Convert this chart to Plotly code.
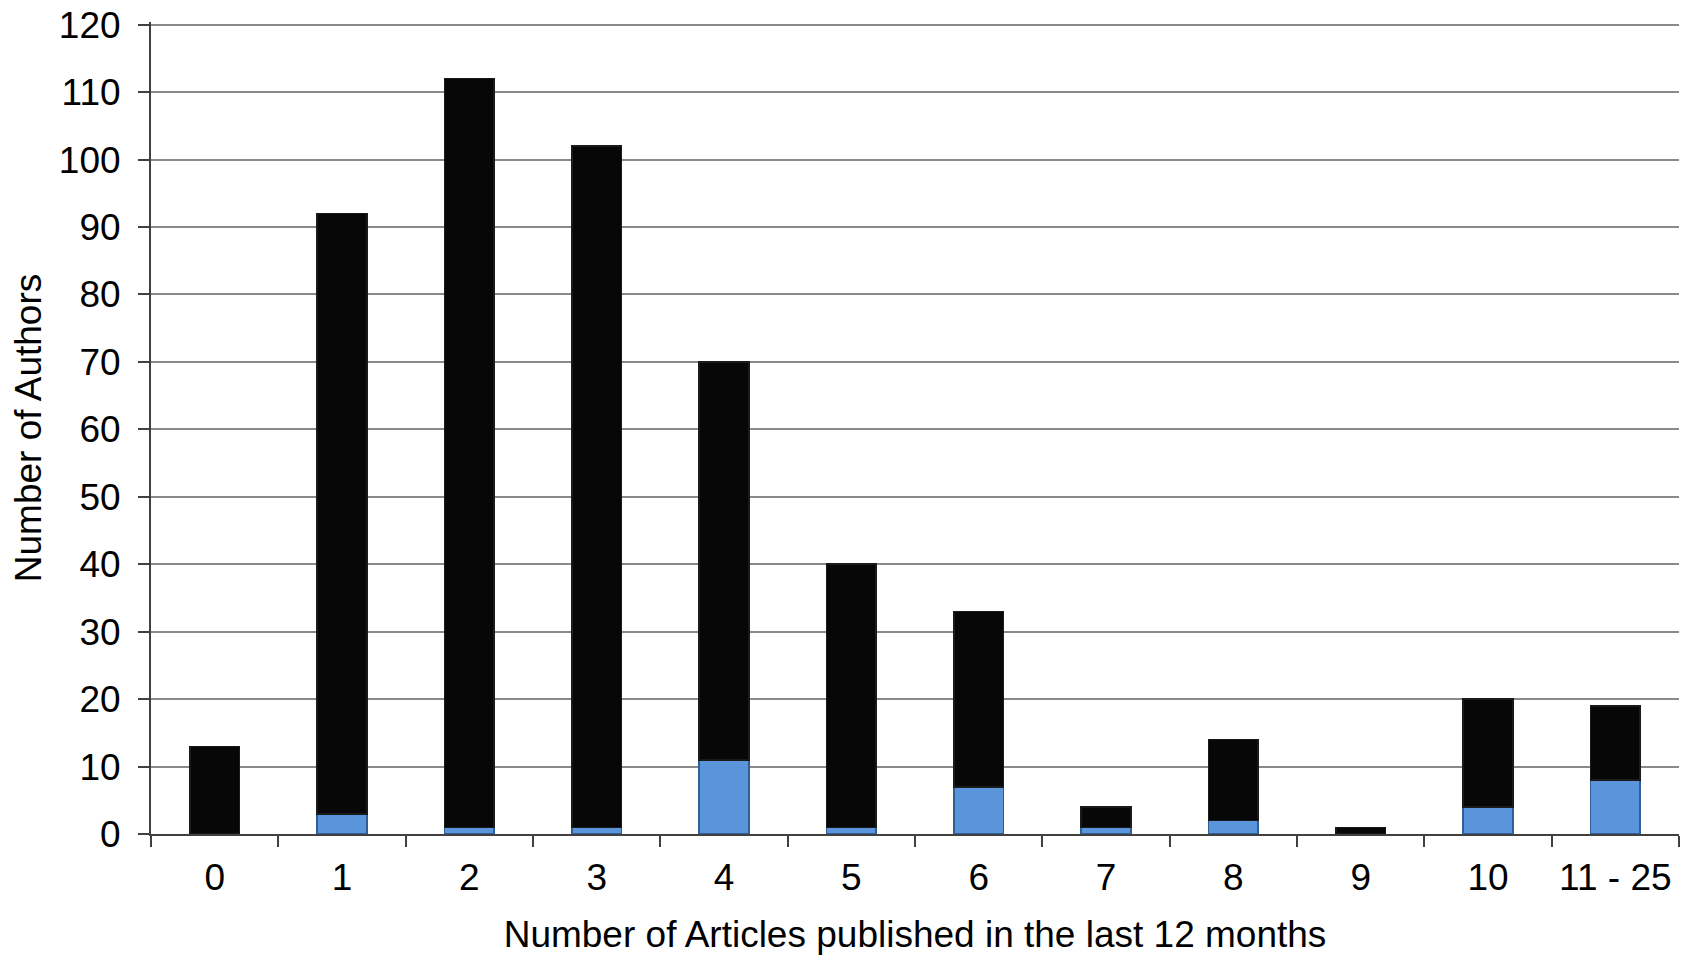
import plotly.graph_objects as go

categories = ["0", "1", "2", "3", "4", "5", "6", "7", "8", "9", "10", "11 - 25"]
totals = [13, 92, 112, 102, 70, 40, 33, 4, 14, 1, 20, 19]
blue_part = [0, 3, 1, 1, 11, 1, 7, 1, 2, 0, 4, 8]
black_part = [t - b for t, b in zip(totals, blue_part)]

FONT = "Liberation Sans, Arial, sans-serif"

fig = go.Figure()
fig.add_trace(go.Bar(
    x=categories, y=blue_part, name="Subset",
    marker=dict(color="#5a95db", line=dict(color="#2f5f96", width=1.5)),
    showlegend=False,
))
fig.add_trace(go.Bar(
    x=categories, y=black_part, name="Authors",
    marker=dict(color="#070707", line=dict(color="#1a1a1a", width=1.5)),
    showlegend=False,
))

fig.update_layout(
    barmode="stack",
    bargap=0.61,
    width=1691, height=956,
    margin=dict(l=151, r=12, t=22, b=122),
    paper_bgcolor="white",
    plot_bgcolor="white",
    font=dict(family=FONT, color="black"),
    xaxis=dict(
        type="category",
        automargin=False,
        showline=True, linecolor="#404040", linewidth=2,
        ticks="outside", tickson="boundaries", ticklen=11, tickcolor="#404040", tickwidth=1.5,
        tickfont=dict(size=37),
        ticklabelstandoff=10,
        ticklabeloverflow="allow",
        title=dict(text="Number of Articles published in the last 12 months", font=dict(size=37), standoff=24),
        showgrid=False,
    ),
    yaxis=dict(
        range=[0, 120.4], tick0=0, dtick=10,
        automargin=False,
        showline=True, linecolor="#404040", linewidth=2,
        ticks="outside", ticklen=11, tickcolor="#404040", tickwidth=1.5,
        tickfont=dict(size=37),
        ticklabelstandoff=10,
        ticklabeloverflow="allow",
        showgrid=True, gridcolor="#8a8a8a", gridwidth=1.5,
        zeroline=False,
        title=dict(text="Number of Authors", font=dict(size=37), standoff=6),
    ),
)

fig.write_html("out.html", config={"displayModeBar": False},
               post_script="document.body.style.margin='0';")
